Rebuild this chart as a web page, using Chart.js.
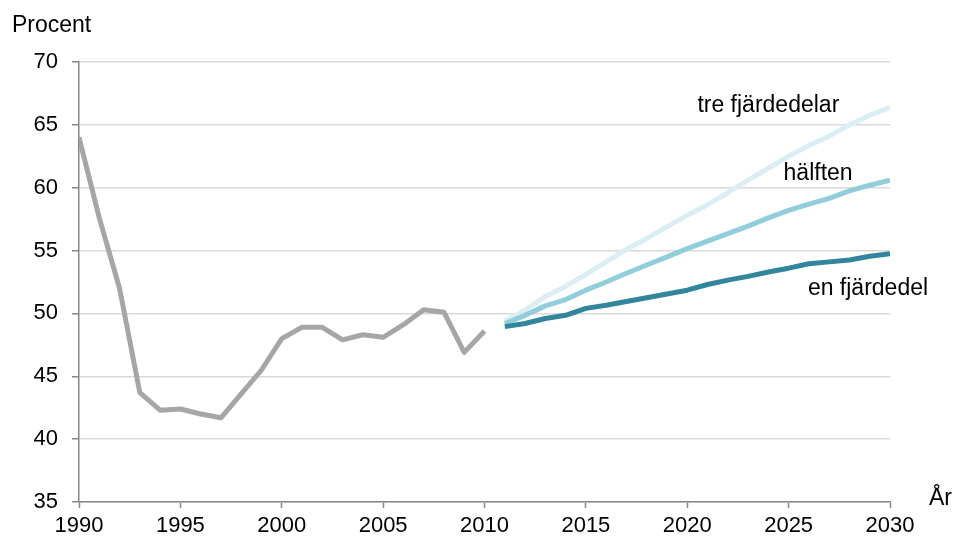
<!DOCTYPE html>
<html>
<head>
<meta charset="utf-8">
<script src="https://cdn.jsdelivr.net/npm/chart.js@4"></script>
<style>
  html, body { margin: 0; padding: 0; background: #fff; }
  #wrap { width: 957px; height: 545px; }
</style>
</head>
<body>
<div id="wrap"><canvas id="myChart" width="957" height="545"></canvas></div>
<script>
// historik
const histYears = [1990, 1991, 1992, 1993, 1994, 1995, 1996, 1997, 1998, 1999, 2000,
  2001, 2002, 2003, 2004, 2005, 2006, 2007, 2008, 2009, 2010];
const histValues = [64.0, 57.6, 52.0, 43.7, 42.3, 42.4, 42.0, 41.7, 43.6, 45.5, 48.0,
  48.9, 48.9, 47.9, 48.3, 48.1, 49.1, 50.3, 50.1, 46.9, 48.6];

// prognoser
const projYears = [2011, 2012, 2013, 2014, 2015, 2016, 2017, 2018, 2019, 2020,
  2021, 2022, 2023, 2024, 2025, 2026, 2027, 2028, 2029, 2030];
const enFjardedel = [48.95, 49.2, 49.6, 49.85, 50.4, 50.65, 50.95, 51.25, 51.55, 51.85,
  52.3, 52.65, 52.95, 53.3, 53.6, 53.95, 54.1, 54.25, 54.55, 54.75];
const halften = [49.2, 49.85, 50.6, 51.1, 51.85, 52.5, 53.2, 53.85, 54.5, 55.15,
  55.75, 56.35, 56.95, 57.6, 58.2, 58.7, 59.15, 59.75, 60.2, 60.6];
const treFjardedelar = [49.4, 50.25, 51.35, 52.15, 53.1, 54.1, 55.1, 55.95, 56.9, 57.8,
  58.65, 59.6, 60.6, 61.55, 62.5, 63.35, 64.1, 65.0, 65.75, 66.4];

const xTicks = [1990, 1995, 2000, 2005, 2010, 2015, 2020, 2025, 2030];
const yTicks = [35, 40, 45, 50, 55, 60, 65, 70];

const toPoints = (xs, ys) => xs.map((x, i) => ({ x: x, y: ys[i] }));
const FONT = '"Liberation Sans", Arial, sans-serif';

// etiketter vid linjerna + axeltitlar
const labelPlugin = {
  id: 'labels',
  afterDraw(chart) {
    const c = chart.ctx;
    const xs = chart.scales.x, ys = chart.scales.y;
    c.save();
    c.fillStyle = '#000';
    c.font = '23px ' + FONT;
    c.textBaseline = 'alphabetic';
    c.textAlign = 'left';
    c.fillText('tre fjärdedelar', xs.getPixelForValue(2020.5), ys.getPixelForValue(66.0));
    c.fillText('hälften', xs.getPixelForValue(2024.75), ys.getPixelForValue(60.6));
    c.fillText('en fjärdedel', xs.getPixelForValue(2025.95), ys.getPixelForValue(51.45));
    c.fillText('Procent', 12, 32);
    c.fillText('År', 929, 505);
    c.restore();
  }
};

const ctx = document.getElementById('myChart');
new Chart(ctx, {
  type: 'line',
  data: {
    datasets: [
      {
        label: 'en fjärdedel',
        data: toPoints(projYears, enFjardedel),
        borderColor: '#31859C',
      },
      {
        label: 'hälften',
        data: toPoints(projYears, halften),
        borderColor: '#92CDDC',
      },
      {
        label: 'tre fjärdedelar',
        data: toPoints(projYears, treFjardedelar),
        borderColor: '#DAEEF3',
      },
      {
        label: 'Historik',
        data: toPoints(histYears, histValues),
        borderColor: '#A6A6A6',
      },
    ],
  },
  options: {
    responsive: false,
    animation: false,
    elements: {
      point: { radius: 0 },
      line: { tension: 0, borderWidth: 5, borderCapStyle: 'butt', borderJoinStyle: 'round' },
    },
    layout: { padding: { left: 0, right: 67, top: 62, bottom: 0 } },
    plugins: { legend: { display: false }, tooltip: { enabled: false } },
    scales: {
      x: {
        type: 'linear',
        min: 1990,
        max: 2030,
        afterBuildTicks: (s) => { s.ticks = xTicks.map(v => ({ value: v })); },
        afterFit: (s) => { s.height = 43; },
        grid: { drawOnChartArea: false, drawTicks: true, tickLength: 6, tickColor: '#868686', tickWidth: 1.5 },
        border: { color: '#868686', width: 1.5 },
        ticks: { color: '#000', font: { family: FONT, size: 22 }, padding: 5, maxRotation: 0, callback: (v) => String(v) },
      },
      y: {
        min: 35,
        max: 70,
        afterBuildTicks: (s) => { s.ticks = yTicks.map(v => ({ value: v })); },
        afterFit: (s) => { s.width = 79; },
        grid: { color: '#D9D9D9', lineWidth: 1.5, drawTicks: true, tickLength: 7, tickColor: '#868686', tickWidth: 1.5 },
        border: { color: '#868686', width: 1.5 },
        ticks: { color: '#000', font: { family: FONT, size: 22 }, padding: 14 },
      },
    },
  },
  plugins: [labelPlugin],
});
</script>
</body>
</html>
